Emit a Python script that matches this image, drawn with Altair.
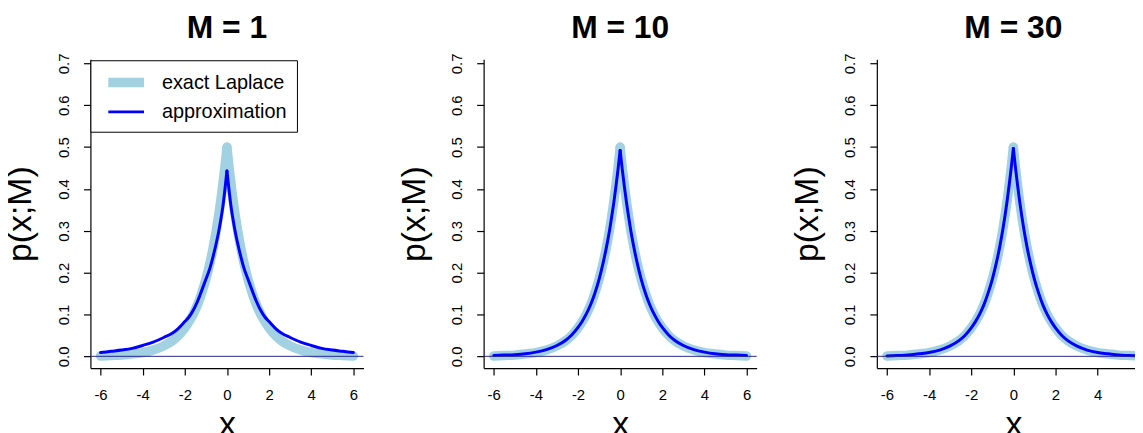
import altair as alt
import pandas as pd

# ---- data ----
x_vals = [-6, -5.5, -5, -4.5, -4, -3.5, -3, -2.6, -2.3, -2, -1.8, -1.6, -1.4, -1.2, -1,
          -0.8, -0.65, -0.5, -0.4, -0.3, -0.2, -0.1, 0, 0.1, 0.2, 0.3, 0.4, 0.5, 0.65,
          0.8, 1, 1.2, 1.4, 1.6, 1.8, 2, 2.3, 2.6, 3, 3.5, 4, 4.5, 5, 5.5, 6]

exact_laplace = [0.001, 0.002, 0.003, 0.006, 0.009, 0.015, 0.025, 0.037, 0.050, 0.068, 0.083,
                 0.101, 0.123, 0.151, 0.184, 0.225, 0.261, 0.303, 0.335, 0.370, 0.409, 0.452,
                 0.500,
                 0.452, 0.409, 0.370, 0.335, 0.303, 0.261, 0.225, 0.184, 0.151, 0.123, 0.101,
                 0.083, 0.068, 0.050, 0.037, 0.025, 0.015, 0.009, 0.006, 0.003, 0.002, 0.001]

approx_m1 = [0.009, 0.012, 0.015, 0.019, 0.026, 0.034, 0.045, 0.055, 0.067, 0.083, 0.094,
             0.110, 0.131, 0.157, 0.184, 0.212, 0.240, 0.272, 0.296, 0.324, 0.356, 0.397,
             0.443,
             0.397, 0.356, 0.324, 0.296, 0.272, 0.240, 0.212, 0.184, 0.157, 0.131, 0.110,
             0.094, 0.083, 0.067, 0.055, 0.045, 0.034, 0.026, 0.019, 0.015, 0.012, 0.009]

approx_m10 = [0.002, 0.003, 0.004, 0.006, 0.010, 0.016, 0.026, 0.038, 0.051, 0.069, 0.084,
              0.102, 0.124, 0.151, 0.184, 0.225, 0.261, 0.302, 0.334, 0.368, 0.406, 0.447,
              0.492,
              0.447, 0.406, 0.368, 0.334, 0.302, 0.261, 0.225, 0.184, 0.151, 0.124, 0.102,
              0.084, 0.069, 0.051, 0.038, 0.026, 0.016, 0.010, 0.006, 0.004, 0.003, 0.002]

approx_m30 = [0.001, 0.002, 0.003, 0.006, 0.009, 0.015, 0.025, 0.037, 0.050, 0.068, 0.083,
              0.101, 0.123, 0.151, 0.184, 0.225, 0.261, 0.303, 0.335, 0.370, 0.409, 0.451,
              0.497,
              0.451, 0.409, 0.370, 0.335, 0.303, 0.261, 0.225, 0.184, 0.151, 0.123, 0.101,
              0.083, 0.068, 0.050, 0.037, 0.025, 0.015, 0.009, 0.006, 0.003, 0.002, 0.001]

panel_titles = ["M = 1", "M = 10", "M = 30"]
series_names = ["exact Laplace", "approximation"]
x_ticks = [-6, -4, -2, 0, 2, 4, 6]
y_ticks = [0.0, 0.1, 0.2, 0.3, 0.4, 0.5, 0.6, 0.7]
zero_level = [0.0]

# ---- styling ----
FONT = "Liberation Sans"
LIGHT = "#a2d1e2"
BLUE = "#0000ff"
ZERO = "#27278f"
W, H = 275, 311
PAD_L, PAD_T = 83, 49
SVG_W, SVG_H = 1135, 425

x_scale = alt.Scale(domain=[-6.48, 6.48], nice=False, zero=False)
y_scale = alt.Scale(domain=[-0.028, 0.71], nice=False, zero=False)


def halves(values, name):
    # split each curve at its cusp (x = 0) so the smooth interpolation keeps the sharp peak
    rows = []
    for xv, pv in zip(x_vals, values):
        if xv <= 0:
            rows.append({"x": xv, "p": pv, "series": name, "side": "left"})
        if xv >= 0:
            rows.append({"x": xv, "p": pv, "series": name, "side": "right"})
    return rows


def make_panel(title, approx, show_legend):
    df = pd.DataFrame(halves(exact_laplace, series_names[0]) + halves(approx, series_names[1]))
    xenc = alt.X("x:Q", scale=x_scale,
                 axis=alt.Axis(values=x_ticks, labelExpr="'' + datum.value", title="x",
                               grid=False, labelPadding=13, titlePadding=5))
    yenc = alt.Y("p:Q", scale=y_scale,
                 axis=alt.Axis(values=y_ticks, labelExpr="format(datum.value, '.1f')",
                               title="p(x;M)", grid=False, labelAngle=270,
                               labelAlign="center", labelBaseline="bottom",
                               labelPadding=12, titlePadding=19))
    base = alt.Chart(df)
    line_kw = dict(strokeCap="round", strokeJoin="round", interpolate="monotone")
    if show_legend:
        leg = alt.Legend(title=None, orient="none", legendX=0, legendY=1,
                         strokeColor="black", fillColor="white",
                         padding=10, symbolType="M-2.32,0H2.32", symbolSize=240,
                         symbolOffset=13.5, labelFontSize=20, labelFont=FONT,
                         labelColor="black", labelOffset=23.5, rowPadding=-2.5)
        color = alt.Color("series:N", scale=alt.Scale(domain=series_names, range=[LIGHT, BLUE]),
                          legend=leg)
        sw = alt.StrokeWidth("series:N",
                             scale=alt.Scale(type="ordinal", domain=series_names, range=[9.5, 3]),
                             legend=leg)
        exact = base.transform_filter(alt.datum.series == series_names[0]).mark_line(
            **line_kw).encode(x=xenc, y=yenc, color=color, strokeWidth=sw, detail="side:N")
        appr = base.transform_filter(alt.datum.series == series_names[1]).mark_line(
            **line_kw).encode(x=xenc, y=yenc, color=color, strokeWidth=sw, detail="side:N")
    else:
        exact = base.transform_filter(alt.datum.series == series_names[0]).mark_line(
            color=LIGHT, strokeWidth=9.5, **line_kw).encode(x=xenc, y=yenc, detail="side:N")
        appr = base.transform_filter(alt.datum.series == series_names[1]).mark_line(
            color=BLUE, strokeWidth=3, **line_kw).encode(x=xenc, y=yenc, detail="side:N")
    zero = alt.Chart(pd.DataFrame({"p": zero_level})).mark_rule(
        color=ZERO, strokeWidth=1).encode(y=yenc)
    return alt.layer(exact, appr, zero).properties(
        width=W, height=H,
        title=alt.TitleParams(title, fontSize=32, fontWeight="bold", font=FONT,
                              anchor="middle", baseline="alphabetic", offset=-17, color="black"))


panels = [make_panel(panel_titles[0], approx_m1, True),
          make_panel(panel_titles[1], approx_m10, False),
          make_panel(panel_titles[2], approx_m30, False)]

chart = alt.hconcat(*panels, spacing=33).resolve_scale(
    color="independent", strokeWidth="independent"
).properties(
    autosize=alt.AutoSizeParams(type="none"),
    padding={"left": PAD_L, "top": PAD_T, "right": SVG_W - PAD_L, "bottom": SVG_H - PAD_T},
    background="white",
).configure_view(stroke=None).configure_axis(
    domainColor="black", tickColor="black", domainWidth=1.2, tickWidth=1.2, tickSize=7,
    labelFont=FONT, labelFontSize=15, labelColor="black",
    titleFont=FONT, titleFontSize=34, titleFontWeight="normal", titleColor="black",
)

chart.save("out.html", embed_options={"renderer": "svg", "actions": False})
